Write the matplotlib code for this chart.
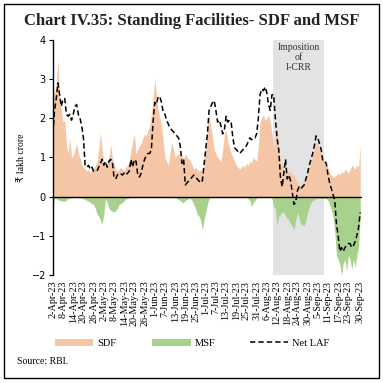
import numpy as np
import matplotlib.pyplot as plt
from matplotlib.patches import Rectangle

# --- Data (daily, 2-Apr-23 to 30-Sep-23), ₹ lakh crore ---
sdf = [2.8, 2.6, 2.9, 3.5, 2.5, 2.2, 1.9, 1.95, 1.3, 1.1, 1.5, 1.0, 1.05, 1.2, 1.35, 1.1, 1.0, 0.8, 0.75, 0.7,
       0.65, 0.7, 0.6, 0.75, 0.7, 0.8, 0.9, 1.2, 1.65, 1.2, 0.9, 0.85, 0.8, 1.0, 1.35, 1.0, 0.85, 0.7, 0.65, 0.7,
       0.75, 0.7, 0.65, 0.75, 0.8, 0.9, 1.2, 1.4, 1.6, 1.1, 1.2, 1.3, 1.35, 1.5, 1.6, 1.55, 1.7, 1.8, 2.1, 2.5,
       3.0, 2.6, 2.2, 2.0, 1.8, 1.4, 1.0, 0.9, 0.8, 1.1, 1.4, 1.2, 1.0, 1.05, 1.1, 1.0, 1.05, 0.95, 1.1, 1.0,
       0.95, 0.9, 0.8, 0.7, 0.75, 0.7, 0.65, 0.7, 0.6, 0.8, 1.3, 1.8, 2.1, 1.8, 1.5, 1.2, 1.1, 1.0, 0.95, 0.9,
       1.2, 1.6, 1.7, 1.4, 1.25, 1.1, 1.0, 0.9, 0.8, 0.75, 0.7, 0.75, 0.8, 0.75, 0.85, 0.8, 0.9, 0.85, 1.0, 0.95,
       0.9, 1.3, 1.9, 2.0, 2.1, 1.95, 2.0, 2.1, 1.9, 1.6, 1.2, 1.5, 1.8, 1.3, 0.9, 0.8, 0.7, 0.65, 0.6, 0.65,
       0.6, 0.55, 0.55, 0.45, 0.35, 0.3, 0.3, 0.35, 0.4, 0.5, 0.6, 0.75, 0.9, 1.05, 1.2, 1.4, 1.3, 1.2, 1.1, 1.0,
       0.85, 0.8, 0.75, 0.6, 0.55, 0.5, 0.5, 0.55, 0.6, 0.55, 0.65, 0.6, 0.7, 0.65, 0.6, 0.7, 0.8, 0.75, 0.7, 0.8,
       0.75, 1.3]

msf = [-0.3, -0.05, -0.05, -0.08, -0.1, -0.1, -0.12, -0.12, -0.08, -0.05, -0.05, -0.03, -0.02, -0.02, -0.02, -0.03, -0.03, -0.04, -0.05, -0.08,
       -0.1, -0.12, -0.15, -0.18, -0.2, -0.3, -0.45, -0.5, -0.6, -0.7, -0.45, -0.05, -0.15, -0.3, -0.35, -0.38, -0.4, -0.35, -0.3, -0.2,
       -0.18, -0.15, -0.1, -0.06, -0.05, -0.03, -0.02, -0.02, -0.03, -0.02, -0.02, -0.02, -0.03, -0.02, -0.02, -0.02, -0.03, -0.02, -0.02, -0.02,
       -0.02, -0.03, -0.02, -0.02, -0.02, -0.03, -0.02, -0.02, -0.02, -0.02, -0.03, -0.02, -0.03, -0.05, -0.08, -0.1, -0.15, -0.15, -0.1, -0.08,
       -0.05, -0.05, -0.1, -0.2, -0.3, -0.45, -0.5, -0.6, -0.85, -0.6, -0.4, -0.2, -0.05, -0.02, -0.02, -0.02, -0.03, -0.02, -0.02, -0.02,
       -0.02, -0.02, -0.03, -0.02, -0.02, -0.02, -0.02, -0.02, -0.03, -0.02, -0.02, -0.02, -0.02, -0.02, -0.02, -0.05, -0.1, -0.25, -0.15, -0.1,
       -0.03, -0.02, -0.02, -0.02, -0.02, -0.02, -0.02, -0.02, -0.02, -0.05, -0.25, -0.3, -0.75, -0.5, -0.45, -0.4, -0.4, -0.5, -0.55, -0.6,
       -0.7, -0.75, -0.85, -0.6, -0.4, -0.55, -0.7, -0.72, -0.75, -0.6, -0.4, -0.25, -0.15, -0.1, -0.08, -0.05, -0.05, -0.05, -0.05, -0.05,
       -0.05, -0.05, -0.1, -0.2, -0.35, -0.5, -0.9, -1.5, -1.6, -1.75, -2.0, -1.7, -1.6, -1.9, -1.5, -1.6, -1.85, -1.6, -1.8, -1.5,
       -1.3, -0.5]

net_laf = [1.6, 2.2, 2.5, 2.9, 2.6, 2.3, 2.5, 2.5, 2.1, 2.05, 2.1, 1.95, 2.1, 2.3, 2.35, 2.1, 2.0, 1.8, 1.5, 0.8,
           0.75, 0.8, 0.7, 0.75, 0.65, 0.65, 0.65, 0.75, 0.85, 0.95, 0.8, 0.9, 0.75, 0.9, 0.95, 0.9, 0.5, 0.45, 0.55, 0.6,
           0.58, 0.55, 0.6, 0.55, 0.6, 0.65, 0.95, 0.75, 0.95, 0.9, 0.55, 0.5, 0.6, 0.8, 0.95, 1.05, 1.1, 1.1, 1.2, 1.9,
           2.4, 2.35, 2.55, 2.55, 2.4, 2.15, 2.1, 1.95, 1.85, 1.75, 1.7, 1.65, 1.6, 1.55, 1.5, 1.3, 0.85, 0.95, 0.3, 0.35,
           0.4, 0.45, 0.5, 0.55, 0.5, 0.45, 0.4, 0.35, 0.4, 0.8, 1.2, 1.6, 2.2, 2.3, 2.4, 2.45, 2.2, 1.9, 1.95, 1.8,
           1.6, 1.7, 2.05, 1.9, 1.95, 1.9, 1.5, 1.25, 1.2, 1.15, 1.1, 1.15, 1.2, 1.25, 1.3, 1.4, 1.5, 1.45, 1.5, 1.5,
           1.6, 2.0, 2.6, 2.75, 2.7, 2.8, 2.65, 2.35, 2.2, 2.6, 2.6, 2.0, 1.5, 1.2, 0.5, 0.25, 0.6, 0.95, 0.45, 0.55,
           0.4, 0.1, -0.2, -0.15, 0.15, 0.25, 0.2, 0.25, 0.3, 0.45, 0.6, 0.8, 0.95, 1.1, 1.3, 1.55, 1.5, 1.35, 1.2, 0.9,
           0.9, 0.85, 0.55, 0.35, 0.2, 0.05, -0.1, -0.7, -1.0, -1.4, -1.3, -1.4, -1.3, -1.25, -1.2, -1.2, -1.3, -1.25, -1.15, -1.0,
           -0.8, -0.4]

tick_days = [0, 6, 12, 18, 24, 30, 36, 42, 48, 54, 60, 66, 72, 78, 84, 90, 96, 102, 108, 114,
             120, 126, 132, 138, 144, 150, 156, 162, 168, 174, 181]
tick_labels = ['2-Apr-23', '8-Apr-23', '14-Apr-23', '20-Apr-23', '26-Apr-23', '2-May-23', '8-May-23',
               '14-May-23', '20-May-23', '26-May-23', '1-Jun-23', '7-Jun-23', '13-Jun-23', '19-Jun-23',
               '25-Jun-23', '1-Jul-23', '7-Jul-23', '13-Jul-23', '19-Jul-23', '25-Jul-23', '31-Jul-23',
               '6-Aug-23', '12-Aug-23', '18-Aug-23', '24-Aug-23', '30-Aug-23', '5-Sep-23', '11-Sep-23',
               '17-Sep-23', '23-Sep-23', '30-Sep-23']

icrr_start, icrr_end = 129.5, 159.8  # I-CRR window (day index)

serif = ['Liberation Serif', 'DejaVu Sans']
days = np.arange(len(sdf))

# --- Plot ---
fig = plt.figure(figsize=(3.83, 3.83), dpi=100)
ax = fig.add_axes([0.138, 0.282, 0.807, 0.614])

ax.axvspan(icrr_start, icrr_end, color='#E3E3E3', lw=0, zorder=0)
h_sdf = ax.fill_between(days, 0, sdf, color='#F5C6A6', lw=0, label='SDF', zorder=1)
h_msf = ax.fill_between(days, 0, msf, color='#A9D18E', lw=0, label='MSF', zorder=1)
ax.axhline(0, color='black', lw=1.0, zorder=2)
h_laf, = ax.plot(days, net_laf, color='black', ls=(0, (3.5, 2)), lw=1.1, label='Net LAF', zorder=3)

ax.text((icrr_start + icrr_end) / 2, 3.93, 'Imposition\nof\nI-CRR', ha='center', va='top',
        fontsize=7, family=serif, linespacing=1.15, color='#333333')

ax.set_xlim(0, 182)
ax.set_ylim(-2, 4)
ax.set_yticks([-2, -1, 0, 1, 2, 3, 4])
ax.set_xticks(tick_days)
ax.set_xticklabels(tick_labels, rotation=90, fontsize=7.3, family=serif)
ax.tick_params(axis='x', length=0, pad=4)
ax.tick_params(axis='y', labelsize=7, length=3, direction='out', pad=2)
for s in ['top', 'right', 'bottom']:
    ax.spines[s].set_visible(False)
ax.spines['left'].set_linewidth(1.0)
ax.set_ylabel('₹ lakh crore', fontsize=7, family=serif, labelpad=4)

fig.text(0.5, 0.945, 'Chart IV.35: Standing Facilities- SDF and MSF', ha='center', va='center',
         fontsize=12, family=serif, weight='bold', color='#222222')

# legend entries placed one by one to match the spacing
for h, x in [(h_sdf, 0.143), (h_msf, 0.398), (h_laf, 0.652)]:
    fig.legend(handles=[h], loc='center left', bbox_to_anchor=(x, 0.104), frameon=False,
               borderpad=0, borderaxespad=0, prop={'family': serif, 'size': 7.5},
               handlelength=3.7, handleheight=0.7, handletextpad=0.4)

fig.text(0.045, 0.055, 'Source: RBI.', fontsize=7, family=serif, va='center')

fig.patches.append(Rectangle((0.01, 0.013), 0.98, 0.976, transform=fig.transFigure,
                             fill=False, edgecolor='black', lw=1.0))

fig.savefig('out.png', dpi=100)
